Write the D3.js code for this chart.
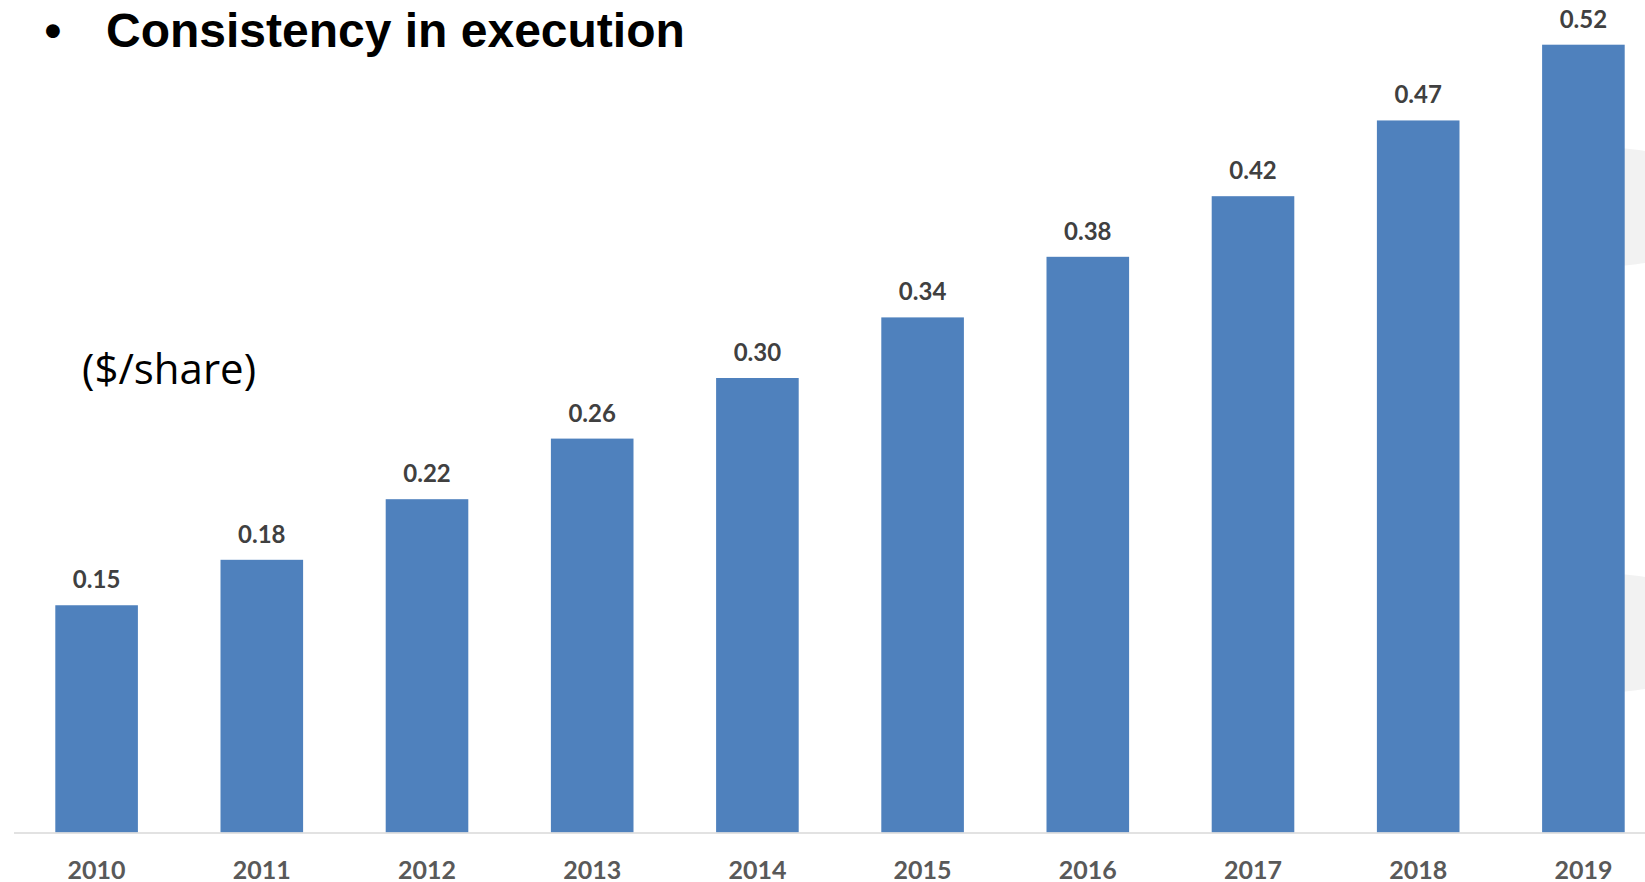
<html>
<head>
  <meta charset='utf-8' />
</head>
<body style='padding: 0; margin: 0; background: white;'>
  <svg style='width: 1645px; height: 882px; display: block; background-color: white'>
  </svg>
</body>

<script src="https://d3js.org/d3.v7.min.js"></script>

<script>
///////////////////
/// Data
///////////////////

  years = ['2010', '2011', '2012', '2013', '2014', '2015', '2016', '2017', '2018', '2019'];
  values = [0.15, 0.18, 0.22, 0.26, 0.30, 0.34, 0.38, 0.42, 0.47, 0.52];
  valueLabels = ['0.15', '0.18', '0.22', '0.26', '0.30', '0.34', '0.38', '0.42', '0.47', '0.52'];

  svg = d3.select('svg')

///////////////////
/// Scales
///////////////////

  scaleX = d3.scaleBand()
    .domain(years)
    .range([14, 1666])
    .paddingInner(0.5)
    .paddingOuter(0.25)

  scaleY = d3.scaleLinear()
    .domain([0, 0.5])
    .range([832.5, 75])

///////////////////
/// Background shapes (decoration at right edge)
///////////////////

  svg.append('clipPath')
    .attr('id', 'rightEdge')
    .append('rect')
    .attr('x', 1600)
    .attr('y', 0)
    .attr('width', 100)
    .attr('height', 882)

  svg.append('g')
    .attr('clip-path', 'url(#rightEdge)')
    .selectAll('ellipse')
    .data([207, 633])
    .enter().append('ellipse')
    .attr('cx', 1560)
    .attr('cy', d => d)
    .attr('rx', 200)
    .attr('ry', 62)
    .style('fill', '#f2f2f2')

///////////////////
/// Bars
///////////////////

  bars = svg.append('g').attr('id', 'bars')

  bars.selectAll('rect')
    .data(values)
    .enter().append('rect')
    .attr('x', (d, i) => scaleX(years[i]))
    .attr('y', d => scaleY(d))
    .attr('width', scaleX.bandwidth())
    .attr('height', d => scaleY(0) - scaleY(d))
    .style('fill', '#4f81bd')

  bars.selectAll('text')
    .data(values)
    .enter().append('text')
    .attr('x', (d, i) => scaleX(years[i]) + scaleX.bandwidth() / 2)
    .attr('y', d => scaleY(d) - 17)
    .attr('text-anchor', 'middle')
    .style('font', 'bold 24px Lato')
    .style('fill', '#404040')
    .text((d, i) => valueLabels[i])

///////////////////
/// Axis
///////////////////

  xAxis = d3.axisBottom(scaleX).tickSize(0).tickPadding(0)

  axisG = svg.append('g')
    .attr('transform', `translate(0, ${scaleY(0)})`)
    .call(xAxis)

  axisG.select('.domain')
    .attr('d', 'M14,0.5H1645')
    .style('stroke', '#d9d9d9')
    .style('stroke-width', 1.5)

  axisG.selectAll('.tick text')
    .attr('dy', 0)
    .attr('y', 46)
    .style('font', 'bold 25px Lato')
    .style('fill', '#595959')

///////////////////
/// Titles
///////////////////

  svg.append('text')
    .attr('x', 53)
    .attr('y', 47)
    .attr('text-anchor', 'middle')
    .style('font', 'bold 48px "Liberation Sans", Arial')
    .text('\u2022')

  svg.append('text')
    .attr('x', 106)
    .attr('y', 47)
    .style('font', 'bold 48px "Liberation Sans", Arial')
    .text('Consistency in execution')

  svg.append('text')
    .attr('x', 82)
    .attr('y', 384)
    .style('font', '42px "Open Sans"')
    .style('fill', '#000')
    .text('($/share)')

</script>
</html>
